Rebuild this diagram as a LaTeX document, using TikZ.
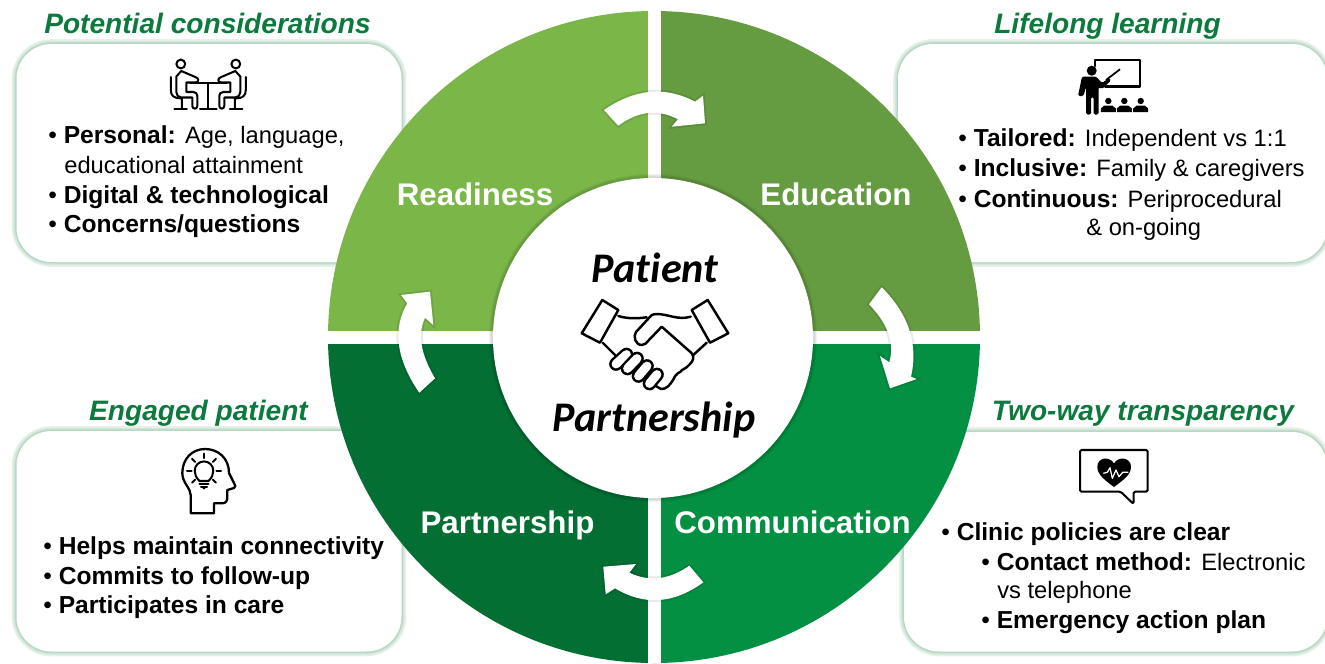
\documentclass[tikz,border=0pt]{standalone}
\usepackage{fontspec}
\setmainfont{Liberation Sans}
\newfontfamily\carlitofont[Ligatures=NoCommon]{Carlito}
\usepackage{xcolor}
\definecolor{readycol}{HTML}{7AB648}
\definecolor{educol}{HTML}{669C41}
\definecolor{partcol}{HTML}{046F33}
\definecolor{commcol}{HTML}{039042}
\definecolor{headcol}{HTML}{0B7A3C}
\definecolor{glowa}{HTML}{E7F1EA}
\definecolor{glowb}{HTML}{D3E6D9}
\definecolor{glowc}{HTML}{B7D8C4}
\newcommand{\soft}[1]{{\fontsize{13.5}{17}\selectfont #1}}
\tikzset{
	card/.style={fill=white, rounded corners=0.7cm,
		preaction={draw=glowa, line width=5.5pt},
		preaction={draw=glowb, line width=3.6pt},
		preaction={draw=glowc, line width=1.8pt}},
	turn/.style={fill=white, preaction={draw=black, opacity=0.09, line width=2.2pt}},
	itemtext/.style={anchor=base west, inner sep=0pt, font=\fontsize{14}{17}\selectfont},
	headtext/.style={anchor=base, inner sep=0pt, text=headcol, font=\fontsize{16}{19}\selectfont\bfseries\itshape},
	sectortext/.style={anchor=base, inner sep=0pt, text=white, font=\fontsize{17.8}{21}\selectfont\bfseries},
	hubtext/.style={anchor=base, inner sep=0pt, font=\fontsize{24}{28}\carlitofont\bfseries\itshape},
	icon/.style={draw=black, line width=1.15pt, line join=round, line cap=round},
	shake/.style={icon, line width=1.4pt},
	finger/.style={line width=1.4pt, double=white, double distance=5pt, line cap=round},
}

\begin{document}
\begin{tikzpicture}[x=0.02cm, y=-0.02cm]
		\useasboundingbox (0,0) rectangle (1325,663);
		
		%cards
		\path[card] (16.5,44) rectangle (401.5,262);
		\path[card] (898,44) rectangle (1327,262);
		\path[card] (16.5,431) rectangle (401.5,651.5);
		\path[card] (904,432) rectangle (1327,651.5);
		
		%sectors
		\fill[readycol] (654,337) -- (328,337) arc[start angle=180, end angle=270, radius=326] -- cycle;
		\fill[educol] (654,337) -- (654,11) arc[start angle=270, end angle=360, radius=326] -- cycle;
		\fill[commcol] (654,337) -- (980,337) arc[start angle=0, end angle=90, radius=326] -- cycle;
		\fill[partcol] (654,337) -- (654,663) arc[start angle=90, end angle=180, radius=326] -- cycle;
		\fill[white] (648,0) rectangle (661,663);
		\fill[white] (320,330.5) rectangle (990,344);
		
		%hub
		\foreach \r in {164,163,162}
			\fill[black, opacity=0.05] (653,338) circle[radius=\r];
		\fill[white] (653,338) circle[radius=160];
		
		%turning arrows
		\path[turn] (604,110) .. controls (635,88.7) and (665.3,85.9) .. (695,101.7) -- (703,95.7) -- (705,123.3) -- (671.7,126.7) -- (678,119.3) .. controls (658,108.8) and (638.1,110.9) .. (618.3,125.7) -- cycle;
		\path[turn] (881.7,287.3) .. controls (908.8,314.4) and (918.5,344.2) .. (911,376.7) -- (916.7,379) -- (890,388.3) -- (880,356) -- (889.3,362.3) .. controls (894.7,343) and (887.9,323.6) .. (869,304.3) -- cycle;
		\path[turn] (689.3,565.7) -- (703.3,582.3) .. controls (673.8,603.9) and (644.3,605.9) .. (615,588.3) -- (605.7,594.3) -- (603.3,566.7) -- (636,564) -- (629.3,572.7) .. controls (649.1,582.1) and (669.1,579.8) .. (689.3,565.7) -- cycle;
		\path[turn] (435,378.3) -- (419.3,392.7) .. controls (396.2,358.9) and (392.2,329.1) .. (407.3,303.3) -- (401,295) -- (430,291.7) -- (433.3,325) -- (425,317.7) .. controls (417.3,333.9) and (420.6,354.1) .. (435,378.3) -- cycle;
		
		%sector names
		\node (readiness) [sectortext] at (475,205) {Readiness};
		\node (education) [sectortext] at (836,205) {Education};
		\node (partnership) [sectortext] at (507.5,533) {Partnership};
		\node (communication) [sectortext] at (792.5,533) {Communication};
		\node (patient) [hubtext] at (655,282) {Patient};
		\node (partner) [hubtext] at (654,431) {Partnership};
		
		%headers
		\node (consider) [headtext] at (207.5,33) {Potential considerations};
		\node (lifelong) [headtext] at (1107.5,33) {Lifelong learning};
		\node (engaged) [headtext] at (198.5,420) {Engaged patient};
		\node (twoway) [headtext] at (1143,420) {Two-way transparency};
		
		%considerations text
		\node (c1) [itemtext] at (48,143) {\textbullet\ \textbf{Personal:} \soft{Age, language,}};
		\node (c2) [itemtext] at (64,173) {\soft{educational attainment}};
		\node (c3) [itemtext] at (48,203) {\textbullet\ \textbf{Digital \& technological}};
		\node (c4) [itemtext] at (48,232) {\textbullet\ \textbf{Concerns/questions}};
		
		%learning text
		\node (l1) [itemtext] at (958,146.5) {\textbullet\ \textbf{Tailored:} \soft{Independent vs 1:1}};
		\node (l2) [itemtext] at (958,176.5) {\textbullet\ \textbf{Inclusive:} \soft{Family \& caregivers}};
		\node (l3) [itemtext] at (958,207) {\textbullet\ \textbf{Continuous:} \soft{Periprocedural}};
		\node (l4) [itemtext] at (1086,235.5) {\soft{\& on-going}};
		
		%engaged text
		\node (e1) [itemtext] at (43,554) {\textbullet\ \textbf{Helps maintain connectivity}};
		\node (e2) [itemtext] at (43,584) {\textbullet\ \textbf{Commits to follow-up}};
		\node (e3) [itemtext] at (43,613) {\textbullet\ \textbf{Participates in care}};
		
		%transparency text
		\node (t1) [itemtext] at (941,540) {\textbullet\ \textbf{Clinic policies are clear}};
		\node (t2) [itemtext] at (981,570) {\textbullet\ \textbf{Contact method:} \soft{Electronic}};
		\node (t3) [itemtext] at (997,598) {\soft{vs telephone}};
		\node (t4) [itemtext] at (981,628) {\textbullet\ \textbf{Emergency action plan}};
		
		%handshake
		\draw[shake] (602.3,300) -- (618.3,310) -- (600,342.7) -- (581.7,333.3) -- cycle;
		\draw[shake] (707.7,300) -- (728.3,333.3) -- (710,342.7) -- (691.7,310) -- cycle;
		\draw[shake] (618.3,316) .. controls (628,319) and (638,318.5) .. (646.7,317.3);
		\draw[shake] (602.7,342.7) -- (615,355);
		\draw[shake] (706.7,342.7) -- (693.3,355);
		\draw[shake] (690.7,316.7) .. controls (678,320.5) and (668,314) .. (656.7,314) .. controls (652,314) and (650,316) .. (648,319) -- (636,332) .. controls (633,336) and (635,345) .. (642,345) .. controls (645,345) and (647,342.5) .. (648.5,340.5) -- (661.7,326.7) -- (691.5,353) .. controls (695,357) and (693,361) .. (690,364) .. controls (686,369) and (682,369) .. (680,372) .. controls (676,374) and (675,376) .. (673,380) .. controls (670,385) and (666,389.5) .. (661,389) -- (655,385.5);
		\draw[finger] (616,364) -- (626.5,354.5);
		\draw[finger] (627.5,368.5) -- (637,358.5);
		\draw[finger] (638.5,376) -- (647,366);
		\draw[finger] (649.5,383.5) -- (657,374.5);
		
		%people at a table
		\foreach \s in {1,-1} {
		\begin{scope}[shift={(208.3,0)}, xscale=\s]
			\draw[icon] (-27.5,64) circle[radius=4.4];
			\draw[icon] (-37.5,77) -- (-37.5,90) .. controls (-37.5,96) and (-34,98.3) .. (-28,98.3) -- (-26.5,98.3) -- (-26.5,108.5);
			\draw[icon] (-34,109) -- (-21.5,109);
			\draw[icon] (-32,76.5) -- (-27,71) -- (-13,77) .. controls (-9,78) and (-9,82.5) .. (-13,82.5) -- (-22,82.5) -- (-22,92) -- (-15,92) .. controls (-12,92) and (-11,94) .. (-11,96) -- (-11,106) .. controls (-11,109.5) and (-16,109.5) .. (-16,106) -- (-16,97.5) -- (-27,97.5) .. controls (-30,97.5) and (-32,95) .. (-32,92) -- cycle;
			\draw[icon] (0,83.3) -- (-18,83.3);
			\draw[icon] (0,83.3) -- (0,109);
			\draw[icon] (0,109) -- (-8.3,109);
		\end{scope}
		}
		
		%teacher and board
		\draw[icon, line width=1.4pt] (1095,66) -- (1095,60) -- (1140,60) -- (1140,86.7) -- (1105,86.7);
		\fill[black] (1091.7,70.7) circle[radius=5];
		\fill[black, rounded corners=0.03cm] (1082,76.5) -- (1096,76.5) -- (1102,83) -- (1109,78) -- (1111,80.5) -- (1102,89) -- (1098.5,87) -- (1098.5,114.5) -- (1093.5,114.5) -- (1093.5,97) -- (1091,97) -- (1091,114.5) -- (1086,114.5) -- (1086,87) -- (1083.5,96) -- (1078,96) -- cycle;
		\draw[black, line width=1pt] (1106,80) -- (1120,69.3);
		\foreach \x in {1108.3,1124.3,1140.7} {
			\fill[black] (\x,101) circle[radius=3.2];
			\fill[black] (\x-7.5,112) -- (\x-7.5,108.5) -- (\x-4,105.5) -- (\x+4,105.5) -- (\x+7.5,108.5) -- (\x+7.5,112) -- cycle;
		}
		
		%head and bulb
		\draw[icon, line width=1.3pt] (190.7,513.3) -- (214,513.3) -- (214,503.3) -- (222,503.3) .. controls (226,503.3) and (227.3,501) .. (227.3,497) -- (227.3,490) -- (234,488) .. controls (236,487) and (235.5,485) .. (234,483) -- (229,473) .. controls (229,458) and (218,449) .. (205,449) .. controls (192,449) and (182.3,459) .. (182.3,473) .. controls (182.3,483) and (190.7,488) .. (190.7,495) -- cycle;
		\draw[icon] (199.5,481) .. controls (196,477.5) and (194.7,474.5) .. (194.7,470.7) arc[start angle=180, end angle=360, radius=9.3] .. controls (213.3,474.5) and (212,477.5) .. (208.5,481) -- cycle;
		\draw[icon] (199.5,484.3) -- (208.5,484.3);
		\draw[icon] (201,486.7) -- (207,486.7);
		\fill[black] (201.5,487) -- (206.5,487) -- (204,489.5) -- cycle;
		\foreach \a in {0,45,135,180,225,270,315}
			\draw[icon] (204,470.7) ++(\a:12.5) -- ++(\a:4.5);
		
		%heart in speech bubble
		\draw[icon, rounded corners=0.03cm] (1120.7,491.7) -- (1080,491.7) -- (1080,450) -- (1147.7,450) -- (1147.7,491.7) -- (1133.5,491.7) -- (1133.5,504) -- cycle;
		\fill[black] (1114,487) .. controls (1106,481) and (1097.3,475) .. (1097.3,467) .. controls (1097.3,457) and (1110,456) .. (1114,463.5) .. controls (1118,456) and (1131,457) .. (1131,467) .. controls (1131,475) and (1122,481) .. (1114,487) -- cycle;
		\draw[white, line width=0.7pt, line join=round] (1103.3,473.3) -- (1107.3,472.3) -- (1110,467.7) -- (1112.3,478.3) -- (1116,470) -- (1119,476.7) -- (1122.7,472.3) -- (1128.3,472.3);
\end{tikzpicture}
\end{document}
